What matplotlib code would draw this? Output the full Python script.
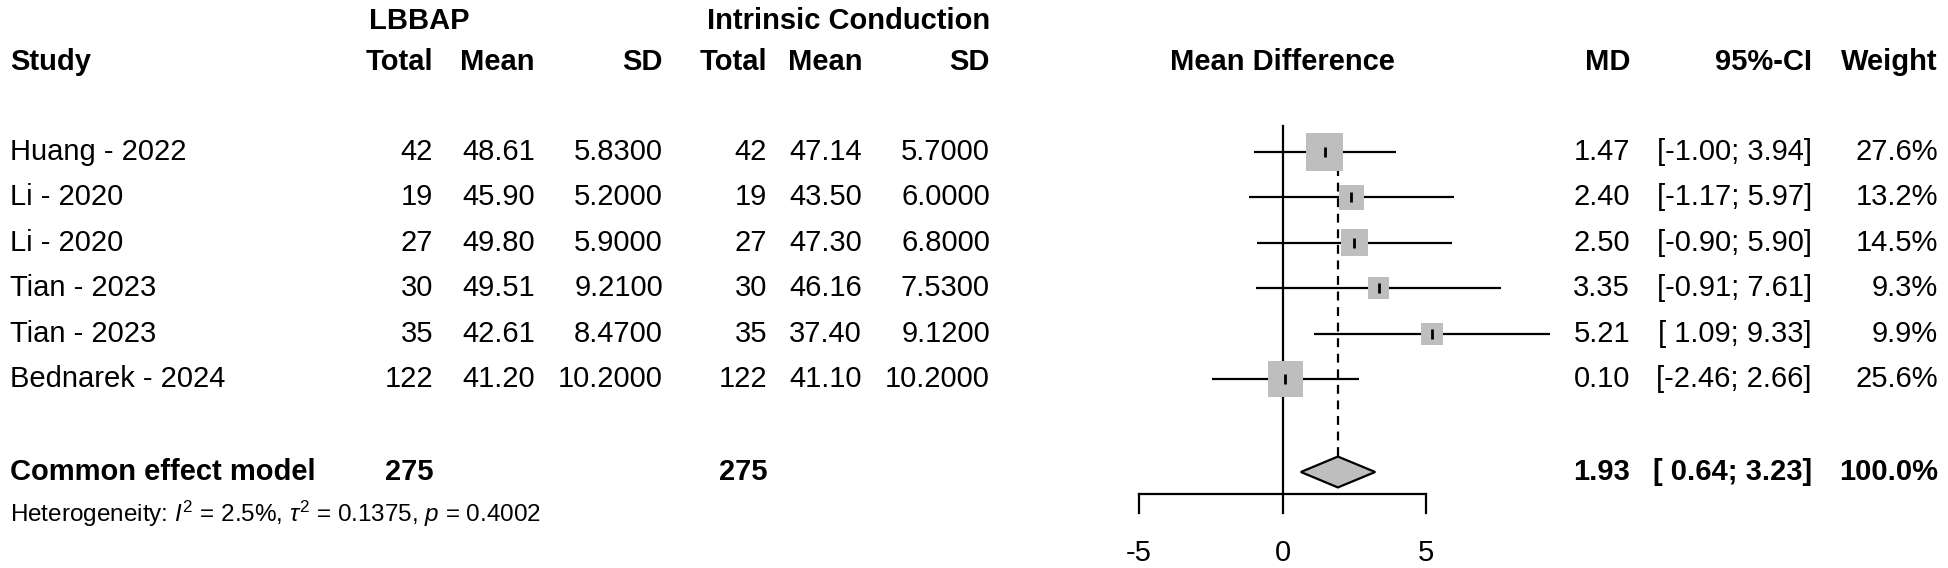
import numpy as np
import matplotlib
matplotlib.use("Agg")
import matplotlib.pyplot as plt
from matplotlib.patches import Polygon

plt.rcParams['font.family'] = ['Liberation Sans', 'DejaVu Sans']
plt.rcParams['mathtext.fontset'] = 'custom'
plt.rcParams['mathtext.rm'] = 'Liberation Sans'
plt.rcParams['mathtext.it'] = 'Liberation Sans:italic'

# data
studies = ['Huang - 2022', 'Li - 2020', 'Li - 2020', 'Tian - 2023', 'Tian - 2023', 'Bednarek - 2024']
n_e = [42, 19, 27, 30, 35, 122]
mean_e = [48.61, 45.90, 49.80, 49.51, 42.61, 41.20]
sd_e = [5.83, 5.20, 5.90, 9.21, 8.47, 10.20]
n_c = [42, 19, 27, 30, 35, 122]
mean_c = [47.14, 43.50, 47.30, 46.16, 37.40, 41.10]
sd_c = [5.70, 6.00, 6.80, 7.53, 9.12, 10.20]
md = [1.47, 2.40, 2.50, 3.35, 5.21, 0.10]
ci_lo = [-1.00, -1.17, -0.90, -0.91, 1.09, -2.46]
ci_hi = [3.94, 5.97, 5.90, 7.61, 9.33, 2.66]
weight = [27.6, 13.2, 14.5, 9.3, 9.9, 25.6]
pooled_md, pooled_lo, pooled_hi = 1.93, 0.64, 3.23
pooled_n_e, pooled_n_c = 275, 275
het_i2, het_tau2, het_p = 2.5, 0.1375, 0.4002
xticks = [-5, 0, 5]

W, H = 1948, 568
fig = plt.figure(figsize=(W / 100, H / 100), dpi=100)

# row units: row k sits at y = k, 45.4 px apart, row 1 at 152 px
PX = 45.4
def yrow(px):
    return 1 + (px - 152) / PX

ylim = (yrow(H), yrow(0))

# text layer, x in figure pixels
tx = fig.add_axes([0, 0, 1, 1])
tx.set_xlim(0, W)
tx.set_ylim(*ylim)
tx.axis('off')

fs = 21
kw = dict(va='center', fontsize=fs)
bold = dict(va='center', fontsize=fs, fontweight='bold')

tx.text(369, yrow(21), 'LBBAP', ha='left', **bold)
tx.text(990, yrow(21), 'Intrinsic Conduction', ha='right', **bold)
yh = yrow(62)
tx.text(10, yh, 'Study', ha='left', **bold)
cols_x = [433, 535, 663, 767, 862, 990]
for x, lab in zip(cols_x, ['Total', 'Mean', 'SD', 'Total', 'Mean', 'SD']):
    tx.text(x, yh, lab, ha='right', **bold)
tx.text(1282, yh, 'Mean Difference', ha='center', **bold)
tx.text(1630, yh, 'MD', ha='right', **bold)
tx.text(1812, yh, '95%-CI', ha='right', **bold)
tx.text(1938, yh, 'Weight', ha='right', **bold)

for i, s in enumerate(studies):
    y = i + 1
    tx.text(10, y, s, ha='left', **kw)
    vals = [f'{n_e[i]}', f'{mean_e[i]:.2f}', f'{sd_e[i]:.4f}',
            f'{n_c[i]}', f'{mean_c[i]:.2f}', f'{sd_c[i]:.4f}']
    for x, v in zip(cols_x, vals):
        tx.text(x, y, v, ha='right', **kw)
    tx.text(1630, y, f'{md[i]:.2f}', ha='right', **kw)
    lo = f'{ci_lo[i]:.2f}' if ci_lo[i] < 0 else f' {ci_lo[i]:.2f}'
    tx.text(1812, y, f'[{lo}; {ci_hi[i]:.2f}]', ha='right', **kw)
    tx.text(1938, y, f'{weight[i]:.1f}%', ha='right', **kw)

yp = yrow(472)
tx.text(10, yp, 'Common effect model', ha='left', **bold)
tx.text(433, yp, f'{pooled_n_e}', ha='right', **bold)
tx.text(767, yp, f'{pooled_n_c}', ha='right', **bold)
tx.text(1630, yp, f'{pooled_md:.2f}', ha='right', **bold)
tx.text(1812, yp, f'[ {pooled_lo:.2f}; {pooled_hi:.2f}]', ha='right', **bold)
tx.text(1938, yp, '100.0%', ha='right', **bold)
tx.text(10, yrow(514),
        f'Heterogeneity: $I^2$ = {het_i2}%, $\\tau^2$ = {het_tau2}, $p$ = {het_p:.4f}',
        ha='left', va='center', fontsize=17.5)

# forest panel: 0 at 1282.5 px, 28.7 px per unit
x0, ppu = 1282.5, 28.7
left_px, right_px = 1050, 1600
ax = fig.add_axes([left_px / W, 0, (right_px - left_px) / W, 1])
ax.set_xlim((left_px - x0) / ppu, (right_px - x0) / ppu)
ax.set_ylim(*ylim)
ax.axis('off')

rows = np.arange(1, len(studies) + 1)
y_axis = yrow(494)
ax.plot([0, 0], [yrow(126), y_axis], color='black', lw=1.6, zorder=1)
ax.plot([pooled_md, pooled_md], [yrow(136), yp - 0.34], color='black', lw=1.6,
        ls=(0, (4, 3)), zorder=1)
ax.hlines(rows, ci_lo, ci_hi, color='black', lw=1.6, zorder=2)
side_pt = 7.05 * np.sqrt(weight) * 0.72
ax.scatter(md, rows, s=side_pt ** 2, marker='s', color='#bebebe', lw=0, zorder=3)
ax.scatter(md, rows, s=60, marker='|', color='black', lw=2, zorder=4)

dh = 0.34
ax.add_patch(Polygon([(pooled_lo, yp), (pooled_md, yp - dh), (pooled_hi, yp), (pooled_md, yp + dh)],
                     closed=True, facecolor='#bebebe', edgecolor='black', lw=1.6, zorder=3))

ax.plot([xticks[0], xticks[-1]], [y_axis, y_axis], color='black', lw=1.6)
for t in xticks:
    ax.plot([t, t], [y_axis, yrow(513)], color='black', lw=1.6)
    ax.text(t, yrow(553), f'{t}', ha='center', va='center', fontsize=fs)

fig.savefig('out.png', dpi=100)
